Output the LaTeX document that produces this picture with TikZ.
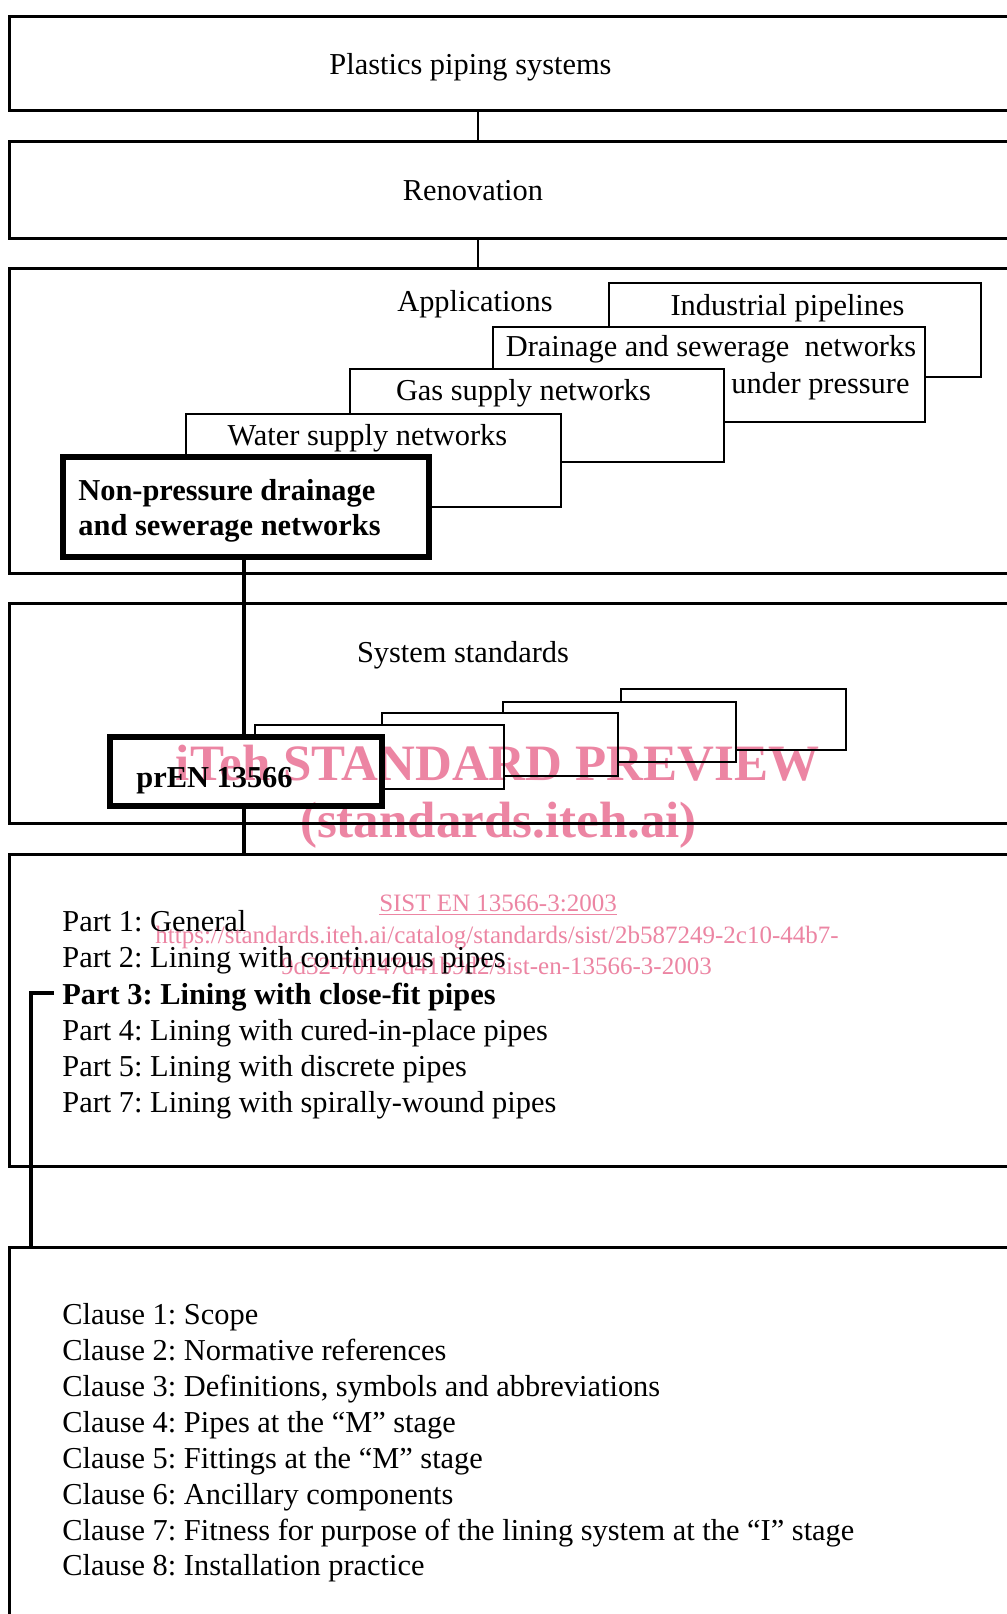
\documentclass[tikz,border=0pt]{standalone}
\usepackage{fontspec}
\setmainfont{Liberation Serif}
\frenchspacing
\definecolor{wm}{RGB}{236,133,163}
\newcommand\mybox[6]{\node[#1, anchor=north west, minimum width={(#5-#3)*0.5pt}, minimum height={(#6-#4)*0.5pt}] (#2) at (#3,#4) {};}
\begin{document}
\frenchspacing
\begin{tikzpicture}[x=0.5pt,y=-0.5pt,
  outerbox/.style={draw, line width=1.5pt, inner sep=0pt, outer sep=0pt},
  innerbox/.style={draw, fill=white, line width=1.2pt, inner sep=0pt, outer sep=0pt},
  heavybox/.style={draw, fill=white, line width=2.6pt, inner sep=0pt, outer sep=0pt},
  txt/.style={inner sep=0pt, font=\fontsize{15.2}{18}\selectfont, anchor=base},
  ltxt/.style={txt, anchor=base west},
  btxt/.style={ltxt, font=\fontsize{15.2}{18}\selectfont\bfseries},
  link/.style={line width=1pt},
  heavylink/.style={line width=2.3pt},
  wmbig/.style={inner sep=0pt, anchor=base, text=wm, font=\fontsize{25.5}{30}\selectfont\bfseries},
  wmsmall/.style={inner sep=0pt, anchor=base, text=wm, font=\fontsize{12.5}{15}\selectfont}]
\useasboundingbox (0,0) rectangle (1007,1614);
\fill[white] (0,0) rectangle (1007,1614);
\clip (0,0) rectangle (1007,1614);
% outer boxes
\mybox{outerbox}{b1}{9.5}{16}{1030}{110}
\mybox{outerbox}{b2}{9.5}{141}{1030}{238}
\mybox{outerbox}{b3}{9.5}{268}{1030}{573}
\mybox{outerbox}{b4}{9.5}{603}{1030}{823}
\mybox{outerbox}{b5}{9.5}{854}{1030}{1166}
\mybox{outerbox}{b6}{9.5}{1247}{1030}{1640}
\coordinate (k1) at (478,0);
\coordinate (k2) at (244,0);
\coordinate (k3) at (31,0);
\draw[link] (b1.south -| k1) -- (b2.north -| k1);
\draw[link] (b2.south -| k1) -- (b3.north -| k1);
% application boxes
\mybox{innerbox}{ind}{609}{283}{981}{377}
\mybox{innerbox}{drn}{493}{327}{925}{422}
\mybox{innerbox}{gas}{350}{369}{724}{462}
\mybox{innerbox}{wat}{186}{414}{561}{507}
\mybox{heavybox}{npd}{63}{457}{429}{557}
\draw[heavylink] (npd.south -| k2) -- (b5.north -| k2);
% system standard boxes
\mybox{innerbox}{sa}{621}{689}{846}{750}
\mybox{innerbox}{sb}{503}{702}{736}{762}
\mybox{innerbox}{sc}{382}{713}{618}{776}
\mybox{innerbox}{sd}{255}{725}{504}{789}
\mybox{heavybox}{pren}{110}{737}{382}{806}
% texts
\node[txt] (t1) at (470.5,74) {Plastics piping systems};
\node[txt] (t2) at (473,200) {Renovation};
\node[txt] (t3) at (475,311) {Applications};
\node[txt] (tind) at (787.5,315) {Industrial pipelines};
\node[txt] (tdrn) at (711,356) {Drainage and sewerage~ networks};
\node[txt] (tund) at (820.5,393) {under pressure};
\node[txt] (tgas) at (523.5,400) {Gas supply networks};
\node[txt] (twat) at (367.5,445) {Water supply networks};
\node[btxt] (tnp1) at (78,500) {Non-pressure drainage};
\node[btxt] (tnp2) at (78,535) {and sewerage networks};
\node[txt] (tsys) at (463,662) {System standards};
\node[btxt] (tpren) at (136,787) {prEN 13566};
% parts
\node[ltxt] (p1) at (62,931) {Part 1: General};
\node[ltxt] (p2) at (62,967) {Part 2: Lining with continuous pipes};
\node[btxt] (p3) at (62,1004) {Part 3: Lining with close-fit pipes};
\node[ltxt] (p4) at (62,1040) {Part 4: Lining with cured-in-place pipes};
\node[ltxt] (p5) at (62,1076) {Part 5: Lining with discrete pipes};
\node[ltxt] (p7) at (62,1112) {Part 7: Lining with spirally-wound pipes};
\draw[heavylink] ([xshift=-4pt,yshift=5.5pt]p3.base west) -| (b6.north -| k3);
% clauses
\node[ltxt] (c1) at (62,1324) {Clause 1: Scope};
\node[ltxt] (c2) at (62,1360) {Clause 2: Normative references};
\node[ltxt] (c3) at (62,1396) {Clause 3: Definitions, symbols and abbreviations};
\node[ltxt] (c4) at (62,1432) {Clause 4: Pipes at the “M” stage};
\node[ltxt] (c5) at (62,1468) {Clause 5: Fittings at the “M” stage};
\node[ltxt] (c6) at (62,1504) {Clause 6: Ancillary components};
\node[ltxt] (c7) at (62,1540) {Clause 7: Fitness for purpose of the lining system at the “I” stage};
\node[ltxt] (c8) at (62,1575) {Clause 8: Installation practice};
% watermark
\begin{scope}[blend mode=multiply]
\node[wmbig] (w1) at (497.5,780) {iTeh STANDARD PREVIEW};
\node[wmbig] (w2) at (498.5,837) {(standards.iteh.ai)};
\node[wmsmall] (w3) at (498,911) {\underline{SIST EN 13566-3:2003}};
\node[wmsmall] (w4) at (497,943) {https://standards.iteh.ai/catalog/standards/sist/2b587249-2c10-44b7-};
\node[wmsmall] (w5) at (496.5,974) {9d32-70147d41b9d2/sist-en-13566-3-2003};
\end{scope}
\end{tikzpicture}
\end{document}
